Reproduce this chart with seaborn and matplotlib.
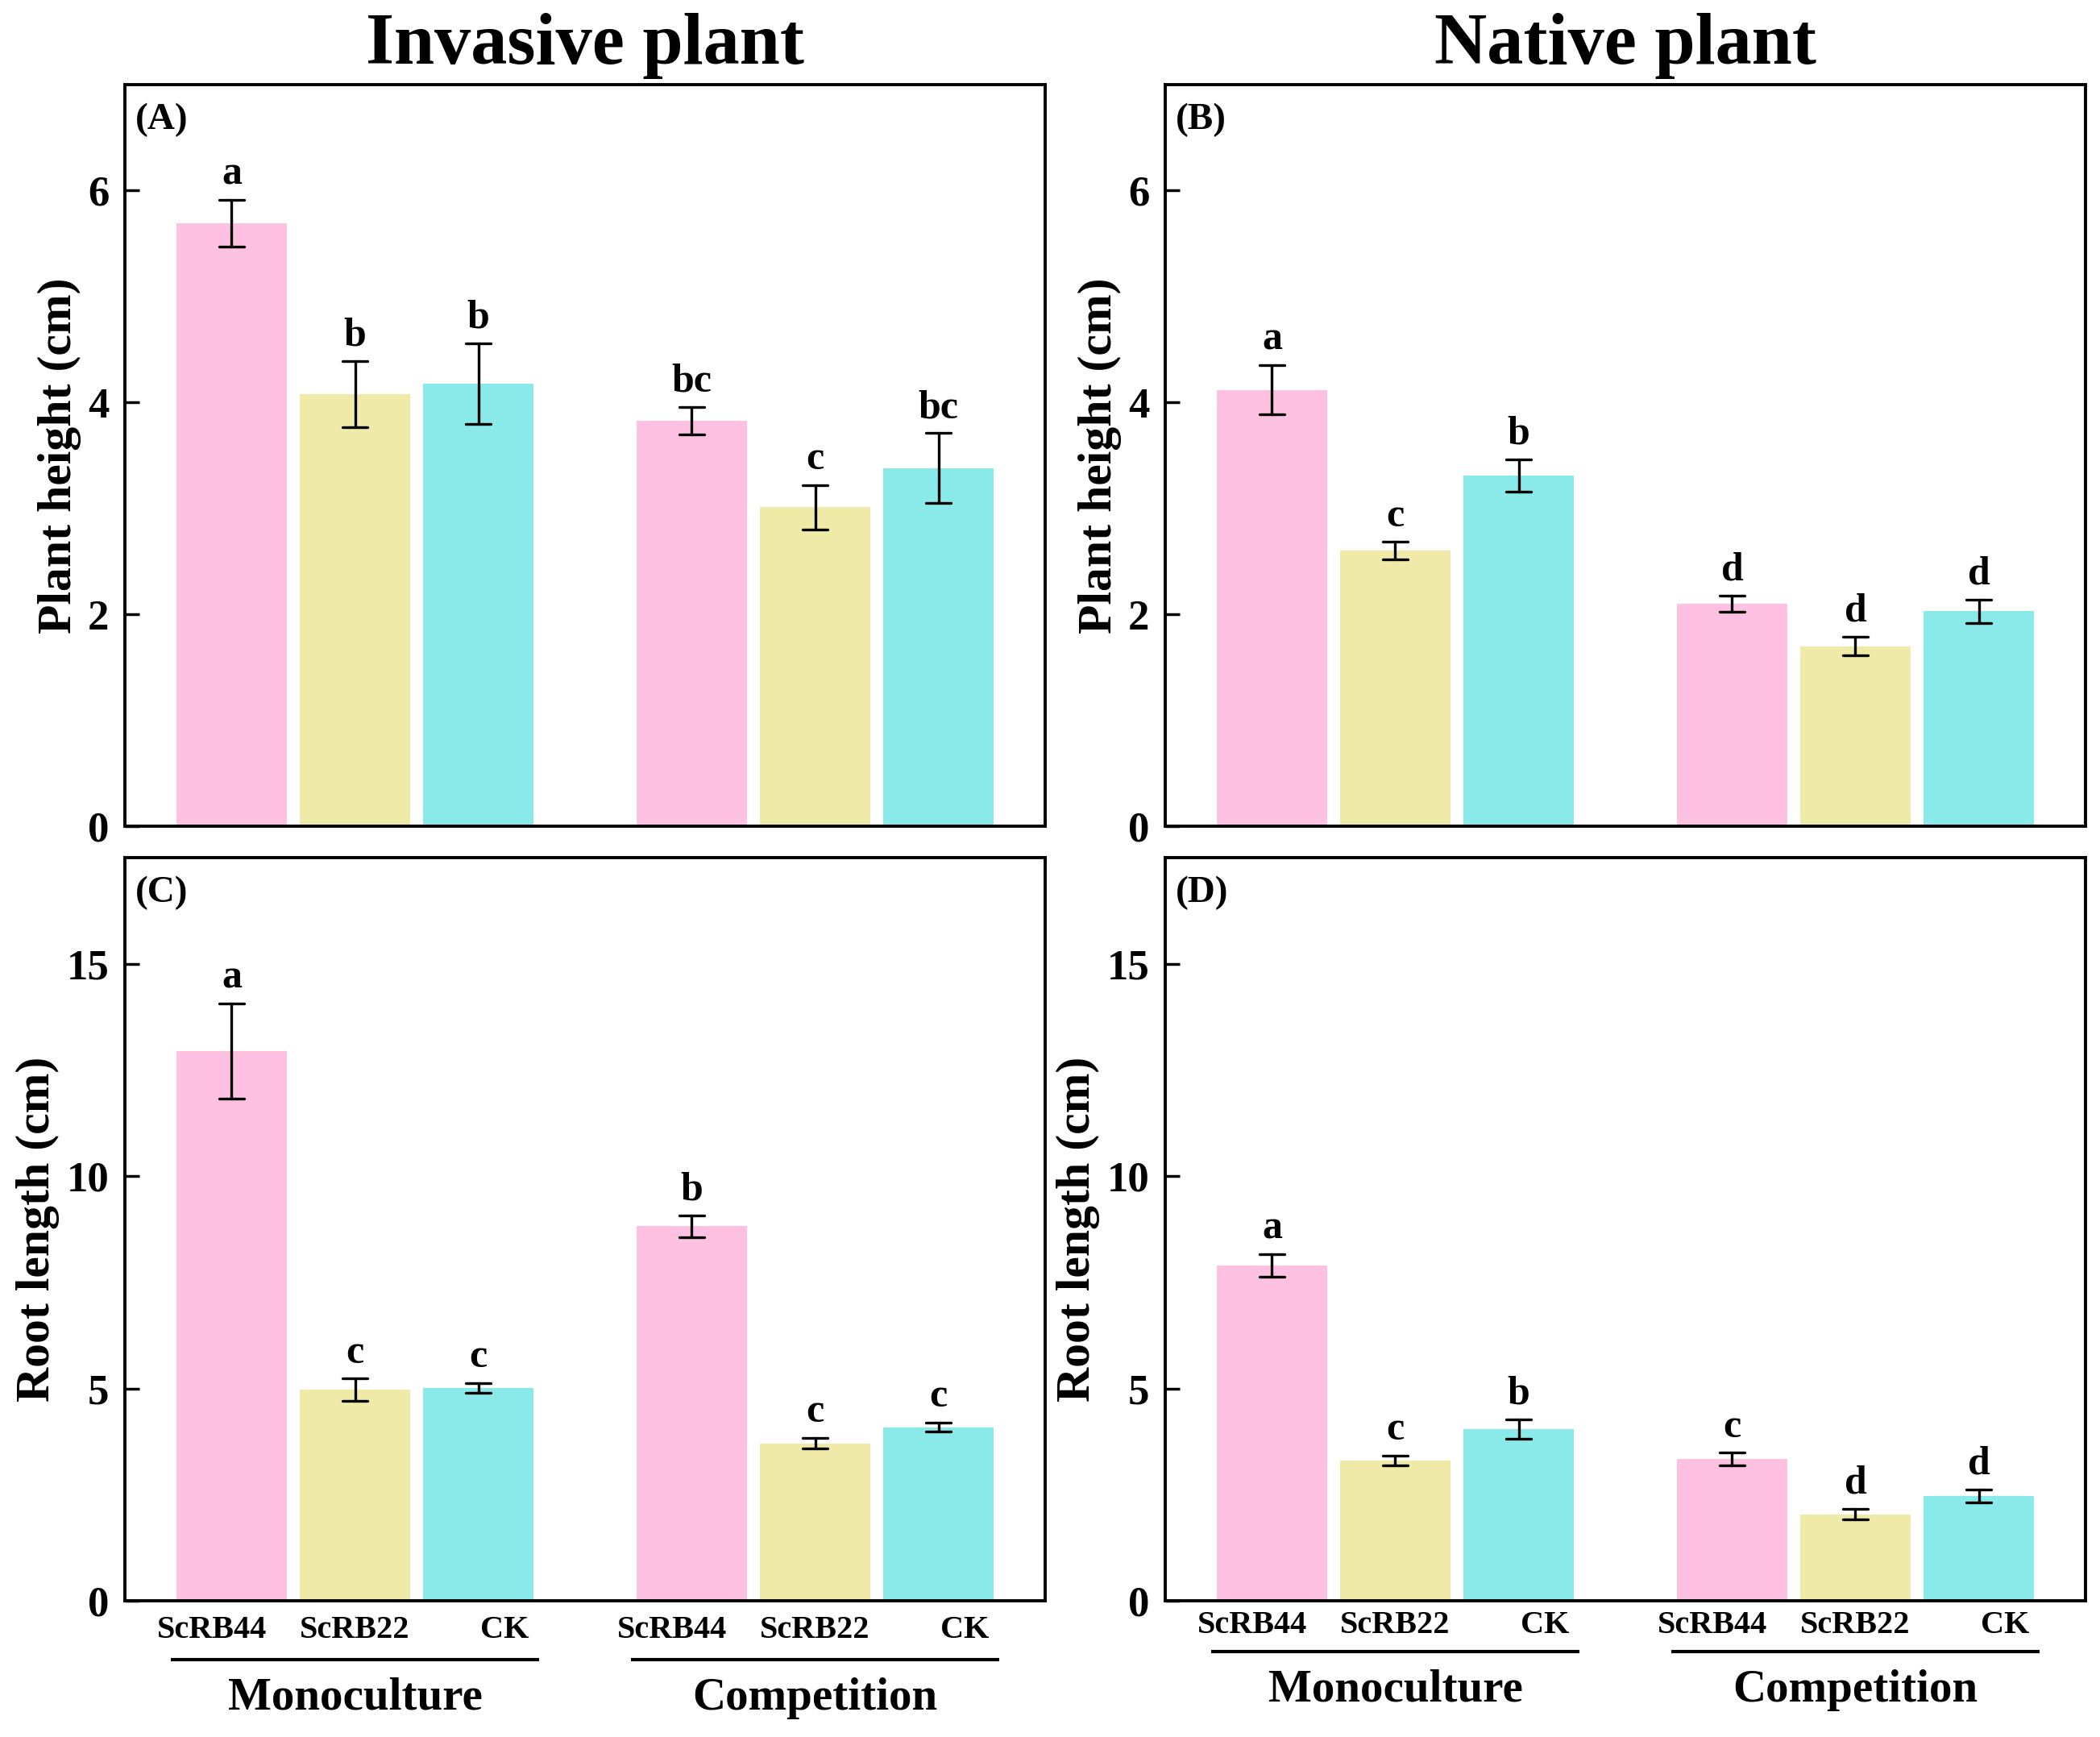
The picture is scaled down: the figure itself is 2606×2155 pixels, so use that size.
import matplotlib
matplotlib.use('Agg')
import matplotlib.pyplot as plt
import pandas as pd
import seaborn as sns

# Data (mean and error)
cultures = ['Monoculture', 'Competition']
strains = ['ScRB44', 'ScRB22', 'CK']
colors = ['#FEC1E1', '#F0EAA8', '#8AEAEA']

# order: Monoculture (ScRB44, ScRB22, CK), Competition (ScRB44, ScRB22, CK)
inv_height = [5.69, 4.08, 4.18, 3.83, 3.01, 3.38]
inv_height_err = [0.22, 0.31, 0.38, 0.13, 0.21, 0.33]
inv_height_sig = ['a', 'b', 'b', 'bc', 'c', 'bc']

nat_height = [4.12, 2.60, 3.31, 2.10, 1.70, 2.03]
nat_height_err = [0.23, 0.085, 0.15, 0.075, 0.09, 0.11]
nat_height_sig = ['a', 'c', 'b', 'd', 'd', 'd']

inv_root = [12.94, 4.97, 5.01, 8.82, 3.71, 4.09]
inv_root_err = [1.12, 0.27, 0.12, 0.26, 0.13, 0.11]
inv_root_sig = ['a', 'c', 'c', 'b', 'c', 'c']

nat_root = [7.90, 3.30, 4.05, 3.34, 2.04, 2.47]
nat_root_err = [0.27, 0.12, 0.23, 0.15, 0.13, 0.15]
nat_root_sig = ['a', 'c', 'b', 'c', 'd', 'd']

sns.set_style('ticks')
plt.rcParams['font.family'] = ['Liberation Serif', 'DejaVu Serif']
plt.rcParams['font.weight'] = 'bold'
plt.rcParams['axes.labelweight'] = 'bold'
plt.rcParams['axes.titleweight'] = 'bold'
for k in ['text.color', 'axes.labelcolor', 'xtick.color', 'ytick.color', 'axes.edgecolor']:
    plt.rcParams[k] = 'black'


def make_frame(means, errs):
    # two rows per bar (mean - err, mean + err): the mean gives the bar,
    # min/max give the error bar
    rows = []
    i = 0
    for c in cultures:
        for s in strains:
            rows.append((c, s, means[i] - errs[i]))
            rows.append((c, s, means[i] + errs[i]))
            i += 1
    return pd.DataFrame(rows, columns=['culture', 'strain', 'value'])


def draw_panel(ax, means, errs, sig, tag, ylim, yticks, ylabel, bottom=False, offs=None):
    df = make_frame(means, errs)
    sns.barplot(data=df, x='culture', y='value', hue='strain', order=cultures,
                hue_order=strains, palette=colors, saturation=1, estimator='mean',
                errorbar=lambda v: (v.min(), v.max()), capsize=0.16,
                err_kws={'color': 'black', 'linewidth': 2.4},
                width=0.804, gap=0.108, linewidth=0, legend=False, ax=ax)

    # significance letters above the error bars
    bars = sorted(ax.patches, key=lambda p: p.get_x())
    for p, m, e, s in zip(bars, means, errs, sig):
        ax.annotate(s, (p.get_x() + p.get_width() / 2, m + e), xytext=(0, 6),
                    textcoords='offset points', ha='center', va='bottom',
                    fontsize=36, fontweight='bold')

    ax.set_xlim(-0.5, 1.5)
    ax.set_ylim(*ylim)
    ax.set_yticks(yticks)
    ax.set_ylabel(ylabel, fontsize=43, labelpad=6)
    ax.set_xlabel('')
    ax.tick_params(axis='y', direction='in', length=13, width=2.5, pad=14, labelsize=38)
    for sp in ax.spines.values():
        sp.set_visible(True)
        sp.set_linewidth(2.8)
        sp.set_color('black')
    ax.text(0.011, 0.975, tag, transform=ax.transAxes, ha='left', va='top', fontsize=34)

    if bottom:
        tick_y, line_y, lab_y = offs
        pos, labs = [], []
        for g in range(len(cultures)):
            for d, s in zip([-0.31, 0.0, 0.325], strains):
                pos.append(g + d)
                labs.append(s)
        ax.set_xticks(pos)
        ax.set_xticklabels([])
        ax.tick_params(axis='x', length=0)
        tr = ax.get_xaxis_transform()
        for x, s in zip(pos, labs):
            ax.text(x, tick_y, s, transform=tr, ha='center', va='center', fontsize=29)
        for g, c in enumerate(cultures):
            ax.plot([g - 0.40, g + 0.40], [line_y, line_y], transform=tr, color='black',
                    linewidth=3, clip_on=False, solid_capstyle='butt')
            ax.text(g, lab_y, c, transform=tr, ha='center', va='center', fontsize=41)
    else:
        ax.set_xticks([])


fig = plt.figure(figsize=(26.06, 21.55), dpi=100)
axA = fig.add_axes([0.05948, 0.52436, 0.43822, 0.42691])
axB = fig.add_axes([0.55487, 0.52436, 0.43822, 0.42691])
axC = fig.add_axes([0.05948, 0.07842, 0.43822, 0.42784])
axD = fig.add_axes([0.55487, 0.07842, 0.43822, 0.42784])

draw_panel(axA, inv_height, inv_height_err, inv_height_sig, '(A)', (0, 7), [0, 2, 4, 6],
           'Plant height (cm)')
draw_panel(axB, nat_height, nat_height_err, nat_height_sig, '(B)', (0, 7), [0, 2, 4, 6],
           'Plant height (cm)')
draw_panel(axC, inv_root, inv_root_err, inv_root_sig, '(C)', (0, 17.5), [0, 5, 10, 15],
           'Root length (cm)', bottom=True, offs=(-0.040, -0.079, -0.131))
draw_panel(axD, nat_root, nat_root_err, nat_root_sig, '(D)', (0, 17.5), [0, 5, 10, 15],
           'Root length (cm)', bottom=True, offs=(-0.033, -0.068, -0.120))

axA.set_title('Invasive plant', fontsize=65, pad=19)
axB.set_title('Native plant', fontsize=65, pad=19)

fig.savefig('out.png', dpi=100)
